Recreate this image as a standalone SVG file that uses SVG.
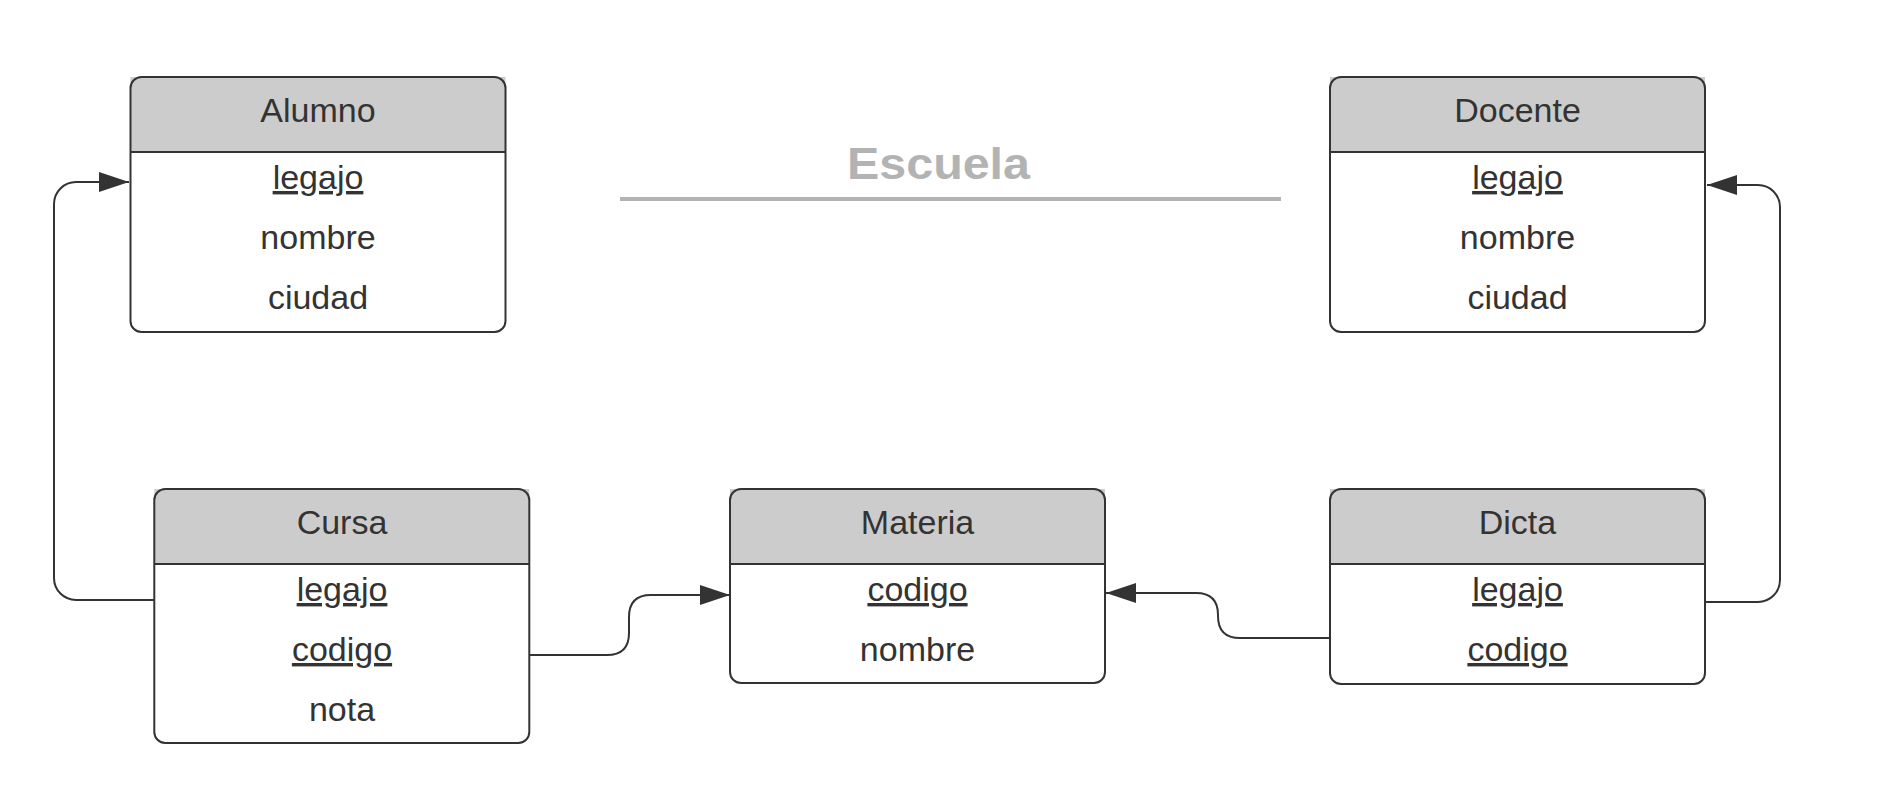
<svg xmlns="http://www.w3.org/2000/svg" width="1878" height="796" viewBox="0 0 1878 796">
<style>
.hdr{fill:#cccccc;stroke:none}
.box{fill:none;stroke:#333333;stroke-width:2}
.sep{stroke:#333333;stroke-width:2}
.t{font-family:"Liberation Sans",Arial,sans-serif;font-size:34px;fill:#333333;text-anchor:middle}
.u{text-decoration:underline}
.con{fill:none;stroke:#333333;stroke-width:2}
</style>
<defs>
<marker id="arr" markerUnits="userSpaceOnUse" markerWidth="30" markerHeight="20" refX="30" refY="10" orient="auto">
<path d="M0,0 L30,10 L0,20 z" fill="#333333"/>
</marker>
</defs>
<rect width="1878" height="796" fill="#ffffff"/>

<g id="title">
<text x="847" y="179" textLength="183" lengthAdjust="spacingAndGlyphs" style="font-family:'Liberation Sans',Arial,sans-serif;font-size:44px;font-weight:bold;fill:#b3b3b3">Escuela</text>
<line x1="620" y1="199" x2="1281" y2="199" stroke="#b3b3b3" stroke-width="4"/>
</g>

<g id="connectors">
<path class="con" d="M154,600 H76 A22,22 0 0 1 54,578 V204 A22,22 0 0 1 76,182 H129" marker-end="url(#arr)"/>
<path class="con" d="M529,655 H607 Q629,655 629,633 V617 Q629,595 651,595 H730" marker-end="url(#arr)"/>
<path class="con" d="M1330,638 H1240 Q1218,638 1218,616 V615 Q1218,593 1196,593 H1106" marker-end="url(#arr)"/>
<path class="con" d="M1705,602 H1758 A22,22 0 0 0 1780,580 V207 A22,22 0 0 0 1758,185 H1707" marker-end="url(#arr)"/>
</g>

<g id="Alumno">
<rect class="hdr" x="130.5" y="77" width="375" height="75"/>
<line class="sep" x1="130.5" y1="152" x2="505.5" y2="152"/>
<rect class="box" x="130.5" y="77" width="375" height="255" rx="11"/>
<text class="t" x="318" y="122">Alumno</text>
<text class="t u" x="318" y="189">legajo</text>
<text class="t" x="318" y="249">nombre</text>
<text class="t" x="318" y="309">ciudad</text>
</g>

<g id="Docente">
<rect class="hdr" x="1330" y="77" width="375" height="75"/>
<line class="sep" x1="1330" y1="152" x2="1705" y2="152"/>
<rect class="box" x="1330" y="77" width="375" height="255" rx="11"/>
<text class="t" x="1517.5" y="122">Docente</text>
<text class="t u" x="1517.5" y="189">legajo</text>
<text class="t" x="1517.5" y="249">nombre</text>
<text class="t" x="1517.5" y="309">ciudad</text>
</g>

<g id="Cursa">
<rect class="hdr" x="154.3" y="489" width="375" height="75"/>
<line class="sep" x1="154.3" y1="564" x2="529.3" y2="564"/>
<rect class="box" x="154.3" y="489" width="375" height="254" rx="11"/>
<text class="t" x="342" y="534">Cursa</text>
<text class="t u" x="342" y="601">legajo</text>
<text class="t u" x="342" y="661">codigo</text>
<text class="t" x="342" y="721">nota</text>
</g>

<g id="Materia">
<rect class="hdr" x="730" y="489" width="375" height="75"/>
<line class="sep" x1="730" y1="564" x2="1105" y2="564"/>
<rect class="box" x="730" y="489" width="375" height="194" rx="11"/>
<text class="t" x="917.5" y="534">Materia</text>
<text class="t u" x="917.5" y="601">codigo</text>
<text class="t" x="917.5" y="661">nombre</text>
</g>

<g id="Dicta">
<rect class="hdr" x="1330" y="489" width="375" height="75"/>
<line class="sep" x1="1330" y1="564" x2="1705" y2="564"/>
<rect class="box" x="1330" y="489" width="375" height="195" rx="11"/>
<text class="t" x="1517.5" y="534">Dicta</text>
<text class="t u" x="1517.5" y="601">legajo</text>
<text class="t u" x="1517.5" y="661">codigo</text>
</g>
</svg>
